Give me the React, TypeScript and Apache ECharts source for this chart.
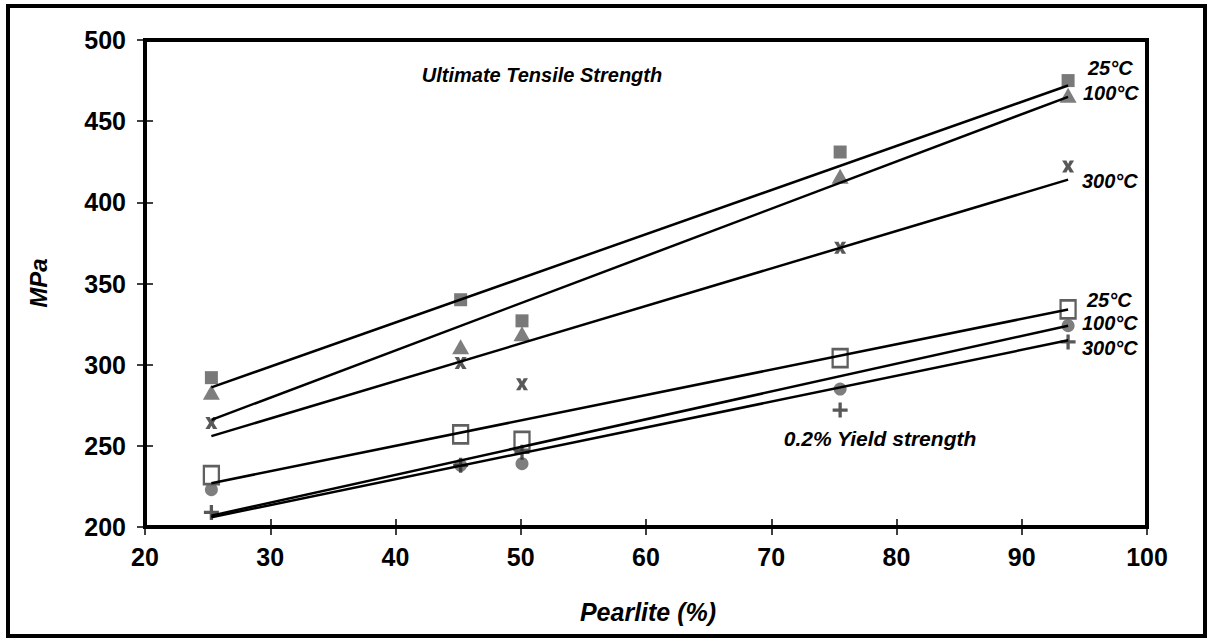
import React, { useEffect, useRef } from "react";
import * as echarts from "echarts";

// Pearlite content (%) of the five tested irons
const pearlite = [25.3, 45.2, 50.1, 75.5, 93.7];

// Ultimate tensile strength (MPa)
const uts25 = [292, 340, 327, 431, 475];
const uts100 = [283, 311, 319, 416, 466];
const uts300 = [264, 301, 288, 372, 422];

// 0.2% yield strength (MPa)
const ys25 = [232, 257, 253, 304, 334];
const ys100 = [223, 238, 239, 285, 324];
const ys300 = [209, 238, 246, 272, 314];

// Trend lines: values at first and last pearlite content
const trendX = [25.3, 93.7];
const uts25Trend = [286, 472];
const uts100Trend = [266, 465];
const uts300Trend = [256, 414];
const ys25Trend = [227, 334];
const ys100Trend = [207, 324];
const ys300Trend = [206, 315];

const xTicks = [20, 30, 40, 50, 60, 70, 80, 90, 100];
const yTicks = [200, 250, 300, 350, 400, 450, 500];

const X_PATH =
  "path://M0,0 L3.6,0 L5,2.8 L6.4,0 L10,0 L6.9,5 L10,10 L6.4,10 L5,7.2 L3.6,10 L0,10 L3.1,5 Z";
const PLUS_PATH = "path://M3.9,0 H6.1 V3.9 H10 V6.1 H6.1 V10 H3.9 V6.1 H0 V3.9 H3.9 Z";

const FONT = "Arial, 'Liberation Sans', Helvetica, sans-serif";

const pairs = (xs: number[], ys: number[]) => xs.map((x, i) => [x, ys[i]]);

export default function App() {
  const ref = useRef<HTMLDivElement>(null);
  useEffect(() => {
    if (!ref.current) return;
    const chart = echarts.init(ref.current, null, { renderer: "svg" });

    const scatter = (name: string, data: number[], symbol: string, size: any, itemStyle: any) => ({
      name,
      type: "scatter",
      data: pairs(pearlite, data),
      symbol,
      symbolSize: size,
      itemStyle,
      z: 2,
      silent: true,
    });
    const trend = (name: string, data: number[]) => ({
      name,
      type: "line",
      data: pairs(trendX, data),
      showSymbol: false,
      symbol: "none",
      lineStyle: { color: "#000", width: 2.5 },
      z: 3,
      silent: true,
    });

    const labelStyle = (text: string, x: number, y: number, size = 20, align = "left") => ({
      type: "text",
      x,
      y,
      style: {
        text,
        fontFamily: FONT,
        fontSize: size,
        fontWeight: "bold",
        fontStyle: "italic",
        fill: "#000",
        align,
        verticalAlign: "middle",
      },
    });

    const xAxisBase = {
      type: "value",
      min: 20,
      max: 100,
      interval: 10,
      splitLine: { show: false },
    };
    const yAxisBase = {
      type: "value",
      min: 200,
      max: 500,
      interval: 50,
      splitLine: { show: false },
    };

    chart.setOption({
      animation: false,
      backgroundColor: "#fff",
      grid: {
        left: 145,
        right: 62,
        top: 40,
        bottom: 114,
        show: true,
        borderColor: "#000",
        borderWidth: 4,
        backgroundColor: "transparent",
      },
      xAxis: [
        {
          ...xAxisBase,
          axisLine: { show: true, lineStyle: { color: "#000", width: 4 } },
          axisTick: { show: true, length: 8, lineStyle: { color: "#000", width: 1.5 } },
          axisLabel: {
            show: true,
            margin: 17,
            color: "#000",
            fontFamily: FONT,
            fontSize: 25,
            fontWeight: "bold",
            formatter: (v: number) => (xTicks.includes(v) ? String(v) : ""),
          },
        },
        {
          ...xAxisBase,
          position: "bottom",
          axisLine: { show: false },
          axisTick: { show: true, inside: true, length: 8, lineStyle: { color: "#000", width: 1.5 } },
          axisLabel: { show: false },
        },
      ],
      yAxis: [
        {
          ...yAxisBase,
          axisLine: { show: true, lineStyle: { color: "#000", width: 4 } },
          axisTick: { show: true, length: 8, lineStyle: { color: "#000", width: 1.5 } },
          axisLabel: {
            show: true,
            margin: 19,
            color: "#000",
            fontFamily: FONT,
            fontSize: 25,
            fontWeight: "bold",
            formatter: (v: number) => (yTicks.includes(v) ? String(v) : ""),
          },
        },
        {
          ...yAxisBase,
          position: "left",
          axisLine: { show: false },
          axisTick: { show: true, inside: true, length: 8, lineStyle: { color: "#000", width: 1.5 } },
          axisLabel: { show: false },
        },
      ],
      series: [
        scatter("UTS 25°C", uts25, "rect", 13, { color: "#575757" }),
        scatter("UTS 100°C", uts100, "triangle", [17, 15], { color: "#5e5e5e" }),
        scatter("UTS 300°C", uts300, X_PATH, 12, { color: "#2e2e2e" }),
        scatter("YS 25°C", ys25, "rect", [15, 18], {
          color: "rgba(255,255,255,0)",
          borderColor: "#383838",
          borderWidth: 2.5,
        }),
        scatter("YS 100°C", ys100, "circle", 13, { color: "#5e5e5e" }),
        scatter("YS 300°C", ys300, PLUS_PATH, 15, { color: "#2e2e2e" }),
        trend("UTS 25°C trend", uts25Trend),
        trend("UTS 100°C trend", uts100Trend),
        trend("UTS 300°C trend", uts300Trend),
        trend("YS 25°C trend", ys25Trend),
        trend("YS 100°C trend", ys100Trend),
        trend("YS 300°C trend", ys300Trend),
      ],
      graphic: [
        {
          type: "rect",
          shape: { x: 8, y: 6, width: 1197, height: 630 },
          style: { fill: "none", stroke: "#000", lineWidth: 4 },
          silent: true,
          z: -1,
        },
        labelStyle("Ultimate Tensile Strength", 542, 75, 20, "center"),
        labelStyle("0.2% Yield strength", 880, 438, 21, "center"),
        labelStyle("25°C", 1088, 68),
        labelStyle("100°C", 1083, 93),
        labelStyle("300°C", 1082, 181),
        labelStyle("25°C", 1087, 300),
        labelStyle("100°C", 1082, 323),
        labelStyle("300°C", 1082, 348),
        labelStyle("Pearlite (%)", 648, 612, 25, "center"),
        {
          type: "text",
          x: 38,
          y: 283,
          rotation: Math.PI / 2,
          style: {
            text: "MPa",
            fontFamily: FONT,
            fontSize: 24,
            fontWeight: "bold",
            fontStyle: "italic",
            fill: "#000",
            align: "center",
            verticalAlign: "middle",
          },
        },
      ],
    });
    return () => chart.dispose();
  }, []);

  return (
    <div
      ref={ref}
      style={{ position: "fixed", left: 0, top: 0, width: 1209, height: 641, background: "#fff" }}
    />
  );
}
